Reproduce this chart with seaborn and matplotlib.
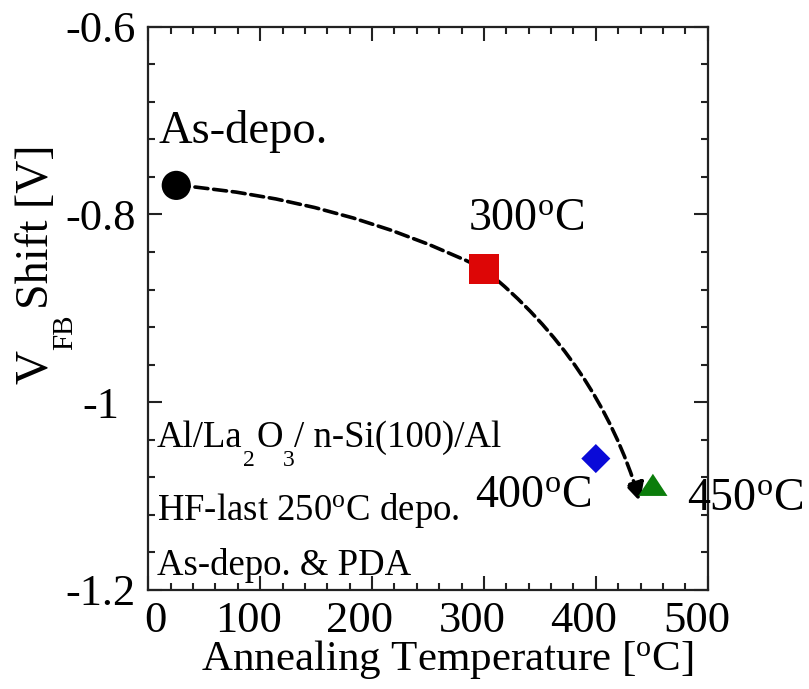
import numpy as np
import pandas as pd
import matplotlib
matplotlib.use("Agg")
import matplotlib.pyplot as plt
import matplotlib.transforms as mtransforms
import seaborn as sns

# ---- data ----
conditions = ["As-depo.", "300C", "400C", "450C"]
anneal_temp = [25, 300, 400, 451]
vfb_shift = [-0.769, -0.858, -1.060, -1.088]
point_colors = ["#000000", "#dd0606", "#0a0ad8", "#0b7d0b"]

# guide curve: As-depo. -> 300C -> arrow tip
guide_x = [25, 300, 439.6]
guide_y = [-0.769, -0.858, -1.106]

x_ticks = [0, 100, 200, 300, 400, 500]
y_ticks = [-0.6, -0.8, -1.0, -1.2]
y_tick_labels = ["-0.6", "-0.8", "-1", "-1.2"]

sns.set_style("ticks")
plt.rcParams["font.family"] = ["Liberation Serif", "DejaVu Serif"]
plt.rcParams["mathtext.fontset"] = "custom"
plt.rcParams["mathtext.rm"] = "Liberation Serif"
plt.rcParams["mathtext.it"] = "Liberation Serif:italic"
plt.rcParams["mathtext.bf"] = "Liberation Serif:bold"
for k in ["text.color", "axes.labelcolor", "xtick.labelcolor", "ytick.labelcolor"]:
    plt.rcParams[k] = "black"

W, H = 809, 689
fig = plt.figure(figsize=(W / 100, H / 100), dpi=100)
ax = fig.add_axes([0.1833, 0.1437, 0.8748 - 0.1833, 0.9612 - 0.1437])


def fpx(x, y):
    return (x / W, 1 - y / H)


df = pd.DataFrame({"cond": conditions, "T": anneal_temp, "V": vfb_shift})

# dashed guide curve (two smooth arcs meeting under the 300C marker)
dash = (0, (3.6, 1.6))
ax.annotate("", xy=(guide_x[1], guide_y[1]), xytext=(guide_x[0], guide_y[0]),
            arrowprops=dict(arrowstyle="-", connectionstyle="arc3,rad=-0.095",
                            color="black", lw=2.6, linestyle=dash,
                            shrinkA=0, shrinkB=0),
            zorder=2)
ax.annotate("", xy=(guide_x[2], guide_y[2]), xytext=(guide_x[1], guide_y[1]),
            arrowprops=dict(arrowstyle="-|>,head_length=0.8,head_width=0.4",
                            connectionstyle="arc3,rad=-0.155",
                            color="black", lw=2.6, linestyle=dash,
                            shrinkA=0, shrinkB=0, mutation_scale=14),
            zorder=2)

tri = [(-1, -0.76), (1, -0.76), (0, 0.76)]
markers = ["o", "s", "D", tri]
sizes = [21**2, 21**2, 14.8**2, 21**2]

for i, row in df.iterrows():
    sns.scatterplot(x=[row["T"]], y=[row["V"]], marker=markers[i], s=sizes[i],
                    color=point_colors[i], edgecolor="none", linewidth=0,
                    ax=ax, zorder=3, legend=False)

ax.set_xlim(0, 500)
ax.set_ylim(-1.2, -0.6)
ax.set_xticks(x_ticks)
ax.set_xticklabels([str(t) for t in x_ticks])
ax.set_yticks(y_ticks)
ax.set_yticklabels(y_tick_labels, ha="center")
ax.xaxis.set_minor_locator(matplotlib.ticker.MultipleLocator(20))
ax.yaxis.set_minor_locator(matplotlib.ticker.MultipleLocator(0.04))

ax.tick_params(which="both", direction="in", top=True, right=True,
               labelsize=32, color="#222222", width=1.5)
ax.tick_params(axis="x", pad=8)
ax.tick_params(axis="y", pad=34.5)
ax.tick_params(which="major", length=10)
ax.tick_params(which="minor", length=5)
for sp in ax.spines.values():
    sp.set_linewidth(1.6)
    sp.set_color("#222222")

# x tick label offsets as in the reference
for lbl, dx in zip(ax.get_xticklabels(), [7, -12, -12, -12, -12, -11]):
    lbl.set_transform(lbl.get_transform() +
                      mtransforms.ScaledTranslation(dx / 100, 0, fig.dpi_scale_trans))

ax.set_xlabel(r"Annealing Temperature [$^{\mathrm{o}}$C]", fontsize=31)
ax.xaxis.set_label_coords(0.534, -0.085)

# y label with low subscript, built from text runs
ylab_kw = dict(rotation=90, rotation_mode="anchor", ha="left", va="baseline")
fig.text(*fpx(47, 384), "V", fontsize=34, **ylab_kw)
fig.text(*fpx(72, 350), "FB", fontsize=21, **ylab_kw)
fig.text(*fpx(48, 309), "Shift [V]", fontsize=33, **ylab_kw)

big = 33
small = 26.5
ax.text(8.7, -0.724, "As-depo.", fontsize=33.5, va="baseline", ha="left")
ax.text(285.8, -0.8166, r"300$^{\mathrm{o}}$C", fontsize=big, va="baseline", ha="left")
ax.text(292, -1.1116, r"400$^{\mathrm{o}}$C", fontsize=big, va="baseline", ha="left")
ax.text(481.5, -1.1147, r"450$^{\mathrm{o}}$C", fontsize=big, va="baseline", ha="left",
        clip_on=False)

# Al/La2O3/ n-Si(100)/Al with low subscripts
run_kw = dict(ha="left", va="baseline")
fig.text(*fpx(157, 447), "Al/La", fontsize=small, **run_kw)
fig.text(*fpx(243, 466), "2", fontsize=17, **run_kw)
fig.text(*fpx(256, 447), "O", fontsize=small, **run_kw)
fig.text(*fpx(283, 466), "3", fontsize=17, **run_kw)
fig.text(*fpx(294, 447), "/ n-Si(100)/Al", fontsize=small, **run_kw)

ax.text(7.7, -1.1254, r"HF-last 250$^{\mathrm{o}}$C depo.", fontsize=small,
        va="baseline", ha="left")
ax.text(7.7, -1.184, "As-depo. & PDA", fontsize=small, va="baseline", ha="left")

fig.savefig("out.png", dpi=100)
